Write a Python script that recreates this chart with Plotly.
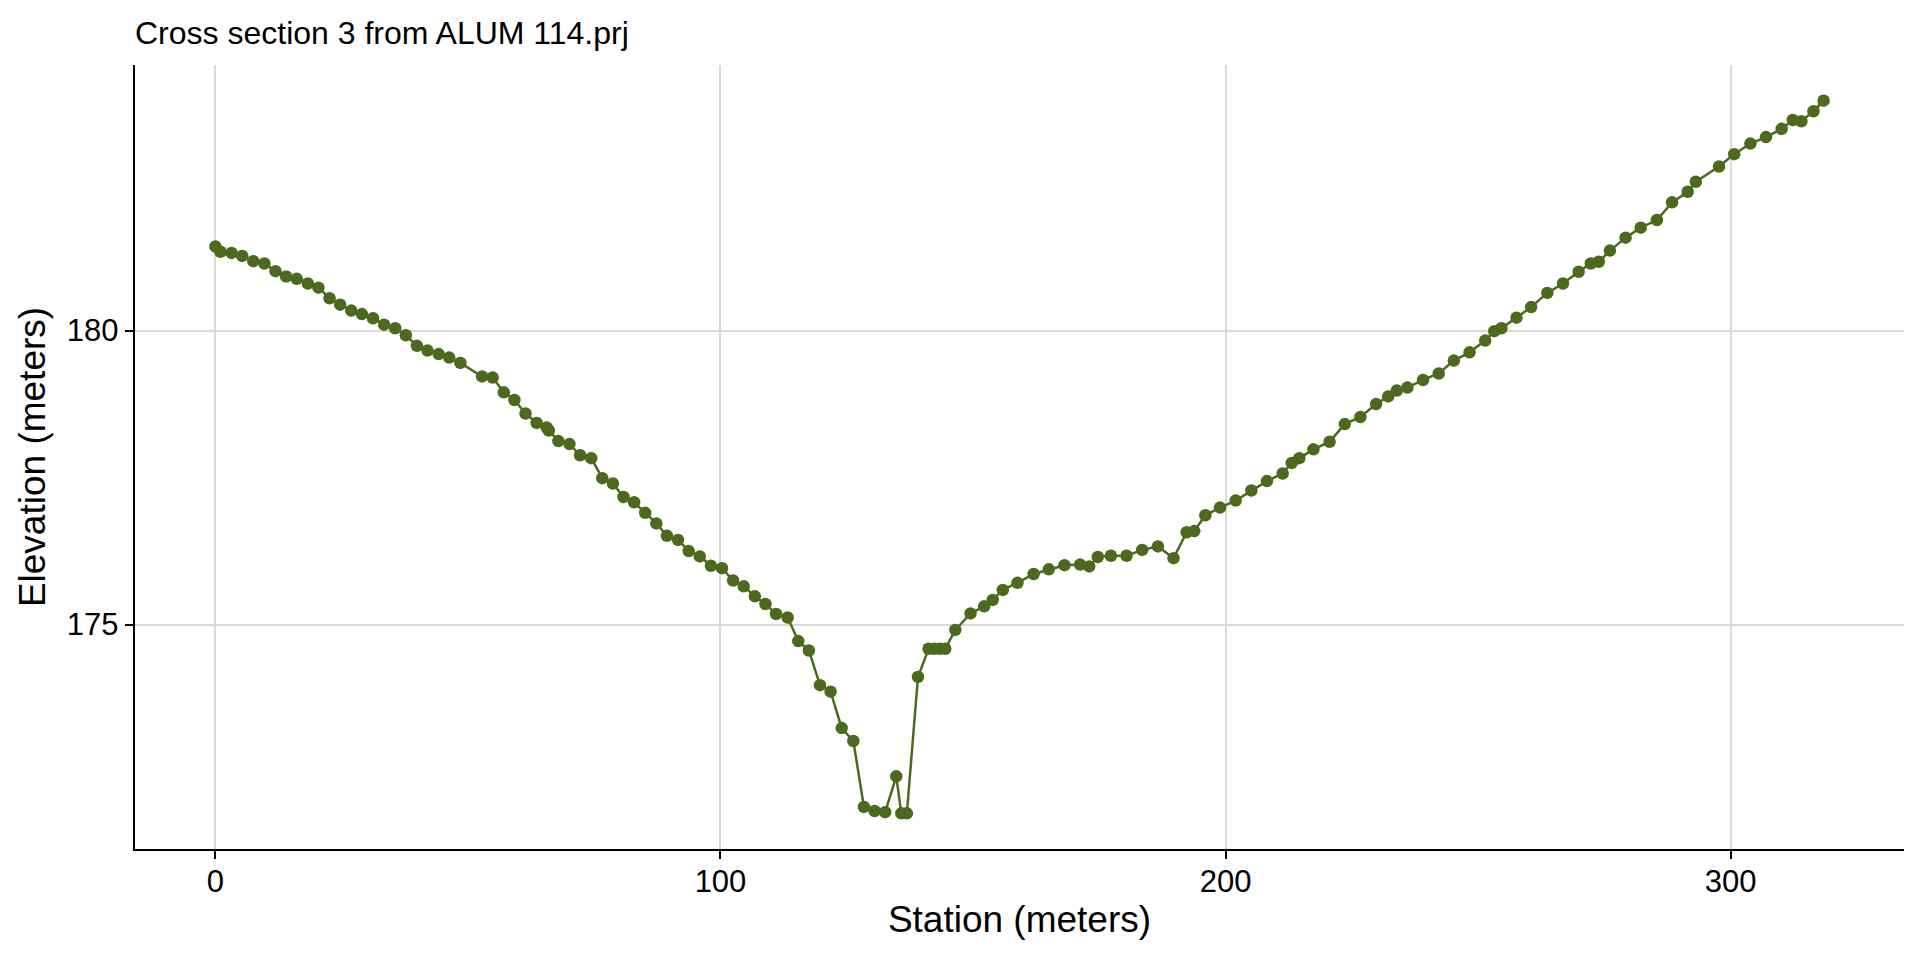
import plotly.graph_objects as go

station = [0, 1.0, 3.2, 5.3, 7.5, 9.7, 11.9, 14.0, 16.1, 18.3, 20.4, 22.6, 24.7, 26.9, 29.0,
           31.2, 33.4, 35.6, 37.7, 39.9, 42.0, 44.2, 46.3, 48.5, 52.8, 54.9, 57.1, 59.2, 61.4,
           63.6, 65.6, 66.0, 67.9, 70.1, 72.2, 74.4, 76.6, 78.7, 80.8, 82.9, 85.1, 87.3, 89.4,
           91.6, 93.7, 95.9, 98.1, 100.3, 102.5, 104.6, 106.8, 108.9, 111.0, 113.3, 115.4,
           117.5, 119.7, 121.8, 124.0, 126.3, 128.4, 130.5, 132.6, 134.8, 135.8, 136.9, 139.1,
           141.2, 142.3, 143.4, 144.5, 146.5, 149.5, 152.2, 153.9, 155.9, 158.8, 162.0, 165.0,
           168.1, 171.2, 173.0, 174.7, 177.3, 180.4, 183.5, 186.6, 189.7, 192.3, 193.8, 196.0,
           198.9, 202.0, 205.1, 208.2, 211.3, 213.1, 214.6, 217.4, 220.6, 223.6, 226.7, 229.8,
           232.2, 233.9, 236.0, 239.1, 242.2, 245.2, 248.3, 251.4, 253.2, 254.6, 257.6, 260.5,
           263.7, 266.8, 269.9, 272.3, 273.9, 276.1, 279.2, 282.2, 285.4, 288.4, 291.5, 293.1,
           297.7, 300.7, 303.9, 307.0, 310.1, 312.3, 314.0, 316.4, 318.4]

elevation = [181.43, 181.34, 181.32, 181.27, 181.18, 181.14, 181.01, 180.92, 180.88, 180.80,
             180.73, 180.55, 180.44, 180.34, 180.28, 180.21, 180.10, 180.04, 179.92, 179.74,
             179.66, 179.60, 179.54, 179.45, 179.22, 179.20, 178.95, 178.82, 178.59, 178.43,
             178.35, 178.30, 178.12, 178.07, 177.88, 177.83, 177.49, 177.40, 177.17, 177.08,
             176.90, 176.72, 176.51, 176.44, 176.25, 176.16, 176.00, 175.96, 175.75, 175.65,
             175.48, 175.35, 175.18, 175.12, 174.72, 174.56, 173.97, 173.86, 173.24, 173.02,
             171.90, 171.83, 171.81, 172.42, 171.79, 171.79, 174.11, 174.59, 174.59, 174.59,
             174.59, 174.91, 175.19, 175.31, 175.42, 175.59, 175.71, 175.86, 175.94, 176.01,
             176.02, 175.99, 176.15, 176.17, 176.17, 176.27, 176.33, 176.13, 176.57, 176.59,
             176.86, 176.99, 177.11, 177.28, 177.44, 177.57, 177.75, 177.83, 177.98, 178.11,
             178.41, 178.53, 178.75, 178.88, 178.98, 179.03, 179.16, 179.27, 179.49, 179.63,
             179.83, 179.99, 180.04, 180.22, 180.40, 180.64, 180.80, 181.00, 181.14, 181.17,
             181.36, 181.58, 181.75, 181.88, 182.18, 182.36, 182.53, 182.79, 183.00, 183.18,
             183.29, 183.43, 183.58, 183.56, 183.73, 183.91]

x_ticks = [0, 100, 200, 300]
y_ticks = [175, 180]

title_text = "Cross section 3 from ALUM 114.prj"
x_title = "Station (meters)"
y_title = "Elevation (meters)"

color = "#4b6a1e"
font_family = "Liberation Sans, Arial, sans-serif"


def expand(vals, f=0.05):
    lo, hi = min(vals), max(vals)
    span = hi - lo
    return [lo - f * span, hi + f * span]


fig = go.Figure()
fig.add_trace(go.Scatter(
    x=station, y=elevation, mode="lines+markers",
    line=dict(color=color, width=2.5),
    marker=dict(color=color, size=12.5, line=dict(width=0)),
    showlegend=False,
))

axis_common = dict(
    showline=True, linecolor="black", linewidth=2.4,
    ticks="outside", ticklen=8, tickwidth=2.2, tickcolor="black",
    showgrid=True, gridcolor="#dadada", gridwidth=2,
    zeroline=False, mirror=False, automargin=False,
    tickfont=dict(family=font_family, size=31, color="black"),
)

fig.update_layout(
    width=1920, height=960,
    paper_bgcolor="white", plot_bgcolor="white",
    margin=dict(l=127, r=24, t=57, b=119),
    title=dict(text=title_text, x=0, xref="paper", xanchor="left",
               y=1 - 24.6 / 960, yref="container", yanchor="middle",
               font=dict(family=font_family, size=32, color="black")),
    xaxis=dict(range=expand(station), tickvals=x_ticks, ticklabelstandoff=-4,
               title=dict(text=x_title, font=dict(family=font_family, size=37, color="black"),
                          standoff=8),
               **axis_common),
    yaxis=dict(range=expand(elevation), tickvals=y_ticks,
               title=dict(text=y_title, font=dict(family=font_family, size=37, color="black"),
                          standoff=10),
               **axis_common),
)

fig.write_html("out.html")
